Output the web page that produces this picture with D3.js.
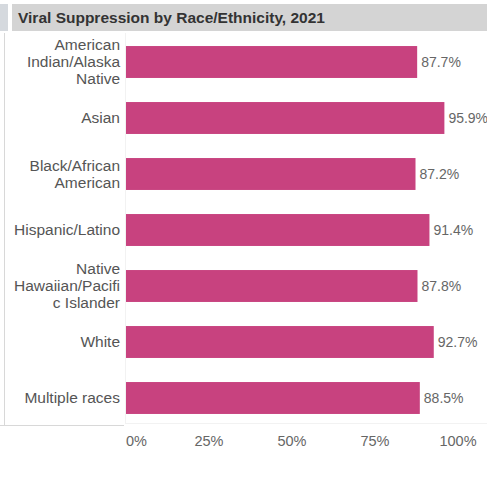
<!DOCTYPE html>
<html>
<head>
<meta charset="utf-8">
<script src="https://cdn.jsdelivr.net/npm/d3@7"></script>
<style>
  body { margin: 0; background: #fff; }
  svg { font-family: "Liberation Sans", Arial, sans-serif; }
</style>
</head>
<body>
<div id="chart"></div>
<script>
var title = "Viral Suppression by Race/Ethnicity, 2021";
var categories = ["American Indian/Alaska Native", "Asian", "Black/African American",
  "Hispanic/Latino", "Native Hawaiian/Pacific Islander", "White", "Multiple races"];
var labelLines = [
  ["American", "Indian/Alaska", "Native"],
  ["Asian"],
  ["Black/African", "American"],
  ["Hispanic/Latino"],
  ["Native", "Hawaiian/Pacifi", "c Islander"],
  ["White"],
  ["Multiple races"]
];
var values = [87.7, 95.9, 87.2, 91.4, 87.8, 92.7, 88.5];
var ticks = [0, 25, 50, 75, 100];

render();

function render() {
  var width = 487, height = 499;
  var left = 126, right = 458, top = 34, bottom = 426;

  var svg = d3.select("#chart")
    .append("svg")
    .attr("width", width)
    .attr("height", height);

  // title bar
  svg.append("rect").attr("x", 0).attr("y", 4).attr("width", 8).attr("height", 27).attr("fill", "#d5d9de");
  svg.append("rect").attr("x", 12).attr("y", 4).attr("width", width - 12).attr("height", 27).attr("fill", "#d4d4d4");
  svg.append("text")
    .attr("x", 18).attr("y", 23)
    .attr("fill", "#333")
    .style("font-size", "15.5px")
    .style("font-weight", "bold")
    .text(title);

  // frame lines
  svg.append("line").attr("x1", 4.5).attr("x2", 4.5).attr("y1", 33).attr("y2", 426)
    .attr("stroke", "#d8d8d8");
  svg.append("line").attr("x1", 0).attr("x2", 124).attr("y1", 425.5).attr("y2", 425.5)
    .attr("stroke", "#d8d8d8");
  svg.append("line").attr("x1", 125.5).attr("x2", 125.5).attr("y1", 33).attr("y2", 424)
    .attr("stroke", "#f2f2f2");
  svg.append("line").attr("x1", 125).attr("x2", width).attr("y1", 423.5).attr("y2", 423.5)
    .attr("stroke", "#f2f2f2");

  var xScale = d3.scaleLinear().domain([0, 100]).range([left, right]);
  var yScale = d3.scaleBand().domain(categories).range([top, bottom])
    .paddingInner(0.43).paddingOuter(0.215);

  svg.selectAll(".bar")
    .data(values)
    .enter().append("rect")
    .attr("class", "bar")
    .attr("x", xScale(0))
    .attr("y", function (d, i) { return yScale(categories[i]); })
    .attr("width", function (d) { return xScale(d) - xScale(0); })
    .attr("height", yScale.bandwidth())
    .attr("fill", "#c8427f");

  svg.selectAll(".val")
    .data(values)
    .enter().append("text")
    .attr("class", "val")
    .attr("x", function (d) { return xScale(d) + 4; })
    .attr("y", function (d, i) { return yScale(categories[i]) + yScale.bandwidth() / 2; })
    .attr("dy", "0.35em")
    .attr("fill", "#666")
    .style("font-size", "14px")
    .text(function (d) { return d.toFixed(1) + "%"; });

  var lh = 17;
  categories.forEach(function (c, i) {
    var lines = labelLines[i];
    var cy = yScale(c) + yScale.bandwidth() / 2;
    var t = svg.append("text")
      .attr("text-anchor", "end")
      .attr("fill", "#555")
      .style("font-size", "15.5px");
    lines.forEach(function (l, j) {
      t.append("tspan")
        .attr("x", 120)
        .attr("y", cy + (j - (lines.length - 1) / 2) * lh)
        .attr("dy", "0.35em")
        .text(l);
    });
  });

  svg.selectAll(".tick-label")
    .data(ticks)
    .enter().append("text")
    .attr("class", "tick-label")
    .attr("x", function (d) { return xScale(d); })
    .attr("y", 446)
    .attr("text-anchor", function (d, i) { return i === 0 ? "start" : "middle"; })
    .attr("fill", "#666")
    .style("font-size", "14.5px")
    .text(function (d) { return d + "%"; });
}
</script>
</body>
</html>
